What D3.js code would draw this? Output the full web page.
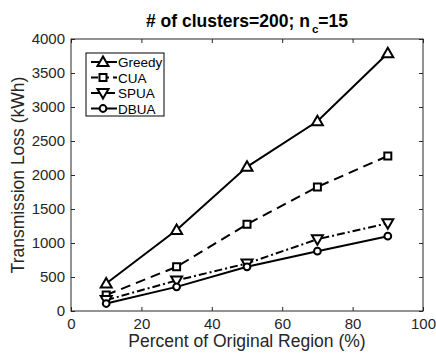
<!DOCTYPE html>
<html>
<head>
<meta charset="utf-8">
<script src="https://cdn.jsdelivr.net/npm/d3@7"></script>
<style>
  body { margin: 0; background: #fff; }
  text { font-family: "Liberation Sans", Arial, sans-serif; }
</style>
</head>
<body>
<div id="chart"></div>
<script>
// chart data
const percents = [10, 30, 50, 70, 90];
const greedy = [405, 1190, 2120, 2790, 3790];
const cua = [235, 650, 1275, 1825, 2280];
const spua = [160, 450, 700, 1055, 1290];
const dbua = [110, 355, 650, 880, 1100];
const xTicks = [0, 20, 40, 60, 80, 100];
const yTicks = [0, 500, 1000, 1500, 2000, 2500, 3000, 3500, 4000];

const series = [
    { name: 'Greedy', values: greedy, dash: null, marker: 'up' },
    { name: 'CUA', values: cua, dash: '10,6', marker: 'square' },
    { name: 'SPUA', values: spua, dash: '8,3,2,3', marker: 'down' },
    { name: 'DBUA', values: dbua, dash: null, marker: 'circle' }
];

const width = 436, height = 358;
const margin = { top: 39, right: 13, bottom: 47, left: 71 };
const w = width - margin.left - margin.right,
      h = height - margin.top - margin.bottom;

const svg = d3.select('#chart')
              .append('svg')
              .attr('width', width)
              .attr('height', height);

const g = svg.append('g')
             .attr('transform', `translate(${margin.left},${margin.top})`);

const x = d3.scaleLinear().domain([0, 100]).range([0, w]);
const y = d3.scaleLinear().domain([0, 4000]).range([h, 0]);

const axisColor = '#262626';
const fmt = d3.format('d');

// axes with inward ticks on all four sides
function styleAxis(sel) {
    sel.select('.domain').remove();
    sel.selectAll('line').attr('stroke', axisColor);
    sel.selectAll('text').attr('fill', axisColor).style('font-size', '15px');
}

g.append('g').attr('transform', `translate(0,${h})`)
 .call(d3.axisBottom(x).tickValues(xTicks).tickSize(-4).tickPadding(7).tickFormat(fmt))
 .call(styleAxis);
g.append('g')
 .call(d3.axisLeft(y).tickValues(yTicks).tickSize(-4).tickPadding(6).tickFormat(fmt))
 .call(styleAxis);
g.append('g')
 .call(d3.axisTop(x).tickValues(xTicks).tickSize(-4).tickFormat(''))
 .call(styleAxis);
g.append('g').attr('transform', `translate(${w},0)`)
 .call(d3.axisRight(y).tickValues(yTicks).tickSize(-4).tickFormat(''))
 .call(styleAxis);

g.append('rect')
 .attr('width', w).attr('height', h)
 .attr('fill', 'none')
 .attr('stroke', axisColor)
 .attr('stroke-width', 1);

// lines
const line = d3.line()
               .x((d, i) => x(percents[i]))
               .y(d => y(d));

g.selectAll('.series')
 .data(series)
 .enter().append('path')
 .attr('class', 'series')
 .attr('d', d => line(d.values))
 .attr('fill', 'none')
 .attr('stroke', '#000')
 .attr('stroke-width', 2)
 .attr('stroke-dasharray', d => d.dash);

function markerPath(type) {
    if (type === 'up') return 'M0,-5.5L5.5,4L-5.5,4Z';
    if (type === 'down') return 'M0,5.5L5.5,-4L-5.5,-4Z';
    if (type === 'square') return 'M-3.5,-3.5H3.5V3.5H-3.5Z';
    return d3.symbol(d3.symbolCircle, 36)();
}

function drawMarker(sel, type) {
    sel.append('path')
       .attr('d', markerPath(type))
       .attr('fill', '#fff')
       .attr('stroke', '#000')
       .attr('stroke-width', 2);
}

series.forEach(s => {
    s.values.forEach((v, i) => {
        const m = g.append('g')
                   .attr('transform', `translate(${x(percents[i])},${y(v)})`);
        drawMarker(m, s.marker);
    });
});

// legend
const legend = g.append('g').attr('transform', 'translate(15,14)');
legend.append('rect')
      .attr('width', 78).attr('height', 63)
      .attr('fill', '#fff')
      .attr('stroke', '#000')
      .attr('stroke-width', 1);

series.forEach((s, i) => {
    const row = legend.append('g').attr('transform', `translate(0,${9 + i * 15.5})`);
    row.append('line')
       .attr('x1', 5).attr('x2', 31)
       .attr('stroke', '#000')
       .attr('stroke-width', 2)
       .attr('stroke-dasharray', s.dash ? (s.marker === 'square' ? '7,4' : '8,3,2,3') : null);
    const m = row.append('g').attr('transform', 'translate(17,0)');
    drawMarker(m, s.marker);
    row.append('text')
       .attr('x', 32).attr('y', 5)
       .attr('fill', '#000')
       .style('font-size', '13.5px')
       .text(s.name);
});

// title and labels
const title = svg.append('text')
                 .attr('x', margin.left + w / 2)
                 .attr('y', 26.5)
                 .attr('text-anchor', 'middle')
                 .style('font-size', '17.5px')
                 .style('font-weight', 'bold')
                 .attr('fill', '#000');
title.append('tspan').text('# of clusters=200; n');
title.append('tspan').attr('dx', 2).attr('dy', 6).style('font-size', '11.5px').text('c');
title.append('tspan').attr('dy', -6).text('=15');

svg.append('text')
   .attr('x', margin.left + w / 2)
   .attr('y', 347)
   .attr('text-anchor', 'middle')
   .attr('fill', axisColor)
   .style('font-size', '17.5px')
   .text('Percent of Original Region (%)');

svg.append('text')
   .attr('transform', `translate(24,${margin.top + h / 2}) rotate(-90)`)
   .attr('text-anchor', 'middle')
   .attr('fill', axisColor)
   .style('font-size', '17.5px')
   .text('Transmission Loss (kWh)');
</script>
</body>
</html>
